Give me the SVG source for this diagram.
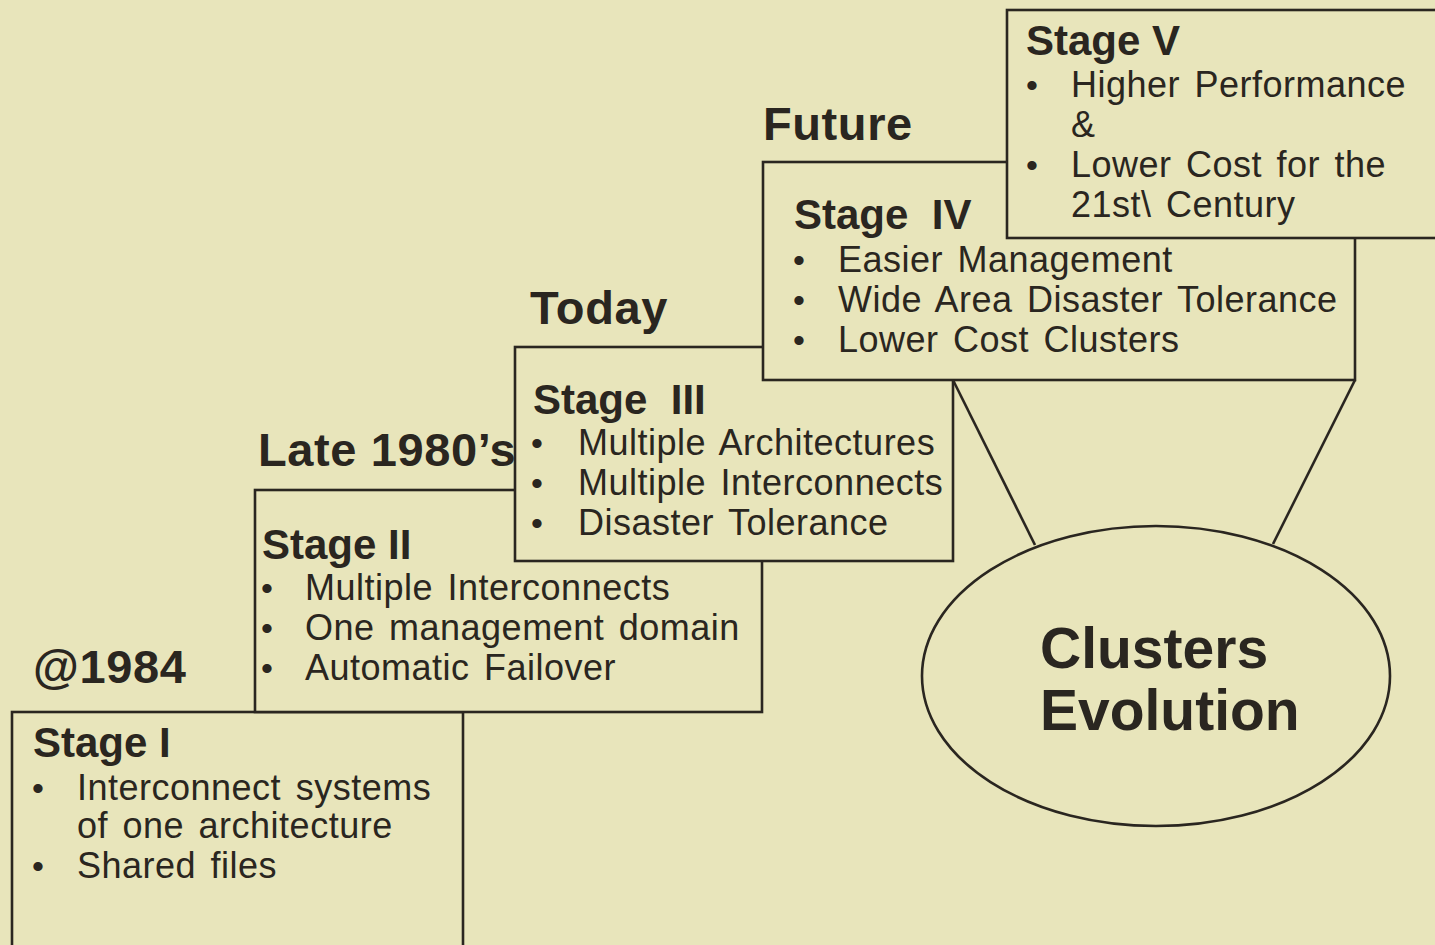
<svg xmlns="http://www.w3.org/2000/svg" width="1435" height="945" viewBox="0 0 1435 945">
  <style>
    .box { fill: #e8e5bb; stroke: #2a2620; stroke-width: 2.6; }
    .era { font-family: "Liberation Sans", Arial, sans-serif; font-weight: bold; font-size: 47px; letter-spacing: 0.6px; fill: #2a2620; }
    .title { font-family: "Liberation Sans", Arial, sans-serif; font-weight: bold; font-size: 42px; fill: #2a2620; white-space: pre; }
    .item { font-family: "Liberation Sans", Arial, sans-serif; font-size: 36px; letter-spacing: 0.5px; word-spacing: 4px; fill: #2a2620; }
    .dot { font-family: "Liberation Sans", Arial, sans-serif; font-size: 34px; fill: #2a2620; }
    .big { font-family: "Liberation Sans", Arial, sans-serif; font-weight: bold; font-size: 57px; fill: #2a2620; }
    .link { stroke: #2a2620; stroke-width: 2.6; fill: none; }
  </style>

  <!-- paper -->
  <rect x="0" y="0" width="1435" height="945" fill="#e8e5bb"/>

  <!-- Stage I -->
  <g id="stage1">
    <text class="era" x="33" y="683">@1984</text>
    <rect class="box" x="12" y="712" width="451" height="260"/>
    <text class="title" x="33" y="757">Stage I</text>
    <text class="dot" x="32" y="800">•</text>
    <text class="item" x="77" y="800">Interconnect systems</text>
    <text class="item" x="77" y="838">of one architecture</text>
    <text class="dot" x="32" y="878">•</text>
    <text class="item" x="77" y="878">Shared files</text>
  </g>

  <!-- Stage II -->
  <g id="stage2">
    <text class="era" x="258" y="466">Late 1980’s</text>
    <rect class="box" x="255" y="490" width="507" height="222"/>
    <text class="title" x="262" y="559">Stage II</text>
    <text class="dot" x="261" y="600">•</text>
    <text class="item" x="305" y="600">Multiple Interconnects</text>
    <text class="dot" x="261" y="640">•</text>
    <text class="item" x="305" y="640">One management domain</text>
    <text class="dot" x="261" y="680">•</text>
    <text class="item" x="305" y="680">Automatic Failover</text>
  </g>

  <!-- Stage III -->
  <g id="stage3">
    <text class="era" x="530" y="324">Today</text>
    <rect class="box" x="515" y="347" width="438" height="214"/>
    <text class="title" x="533" y="414">Stage  III</text>
    <text class="dot" x="531" y="455">•</text>
    <text class="item" x="578" y="455">Multiple Architectures</text>
    <text class="dot" x="531" y="495">•</text>
    <text class="item" x="578" y="495">Multiple Interconnects</text>
    <text class="dot" x="531" y="535">•</text>
    <text class="item" x="578" y="535">Disaster Tolerance</text>
  </g>

  <!-- Stage IV -->
  <g id="stage4">
    <text class="era" x="763" y="140">Future</text>
    <rect class="box" x="763" y="162" width="592" height="218"/>
    <text class="title" x="794" y="229">Stage  IV</text>
    <text class="dot" x="793" y="272">•</text>
    <text class="item" x="838" y="272">Easier Management</text>
    <text class="dot" x="793" y="312">•</text>
    <text class="item" x="838" y="312">Wide Area Disaster Tolerance</text>
    <text class="dot" x="793" y="352">•</text>
    <text class="item" x="838" y="352">Lower Cost Clusters</text>
  </g>

  <!-- Stage V -->
  <g id="stage5">
    <rect class="box" x="1007" y="10" width="450" height="228"/>
    <text class="title" x="1026" y="55">Stage V</text>
    <text class="dot" x="1026" y="97">•</text>
    <text class="item" x="1071" y="97">Higher Performance</text>
    <text class="item" x="1071" y="137">&amp;</text>
    <text class="dot" x="1026" y="177">•</text>
    <text class="item" x="1071" y="177">Lower Cost for the</text>
    <text class="item" x="1071" y="217">21st\ Century</text>
  </g>

  <!-- funnel from Stage IV into the summary oval -->
  <g id="connectors">
    <line class="link" x1="953" y1="380" x2="1035" y2="545"/>
    <line class="link" x1="1355" y1="380" x2="1273" y2="544"/>
  </g>

  <!-- summary oval -->
  <g id="evolution">
    <ellipse class="box" cx="1156" cy="676" rx="234" ry="150"/>
    <text class="big" x="1040" y="668">Clusters</text>
    <text class="big" x="1040" y="730">Evolution</text>
  </g>
</svg>
